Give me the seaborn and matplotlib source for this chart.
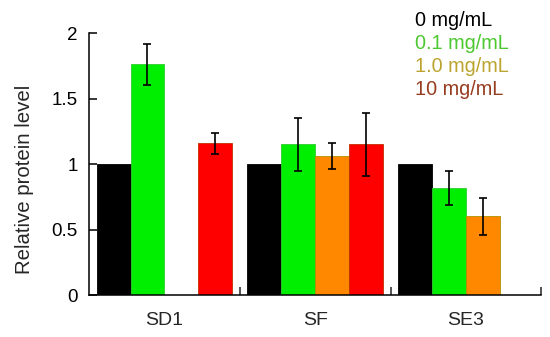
import numpy as np
import pandas as pd
import seaborn as sns
import matplotlib
matplotlib.use("Agg")
import matplotlib.pyplot as plt

groups = ["SD1", "SF", "SE3"]
series = ["0 mg/mL", "0.1 mg/mL", "1.0 mg/mL", "10 mg/mL"]
# values per series, ordered by groups (NaN = bar absent)
val_0 = [1.00, 1.00, 1.00]
val_01 = [1.76, 1.15, 0.82]
val_10 = [np.nan, 1.06, 0.60]
val_100 = [1.16, 1.15, np.nan]
err_0 = [np.nan, np.nan, np.nan]
err_01 = [0.155, 0.20, 0.13]
err_10 = [np.nan, 0.10, 0.14]
err_100 = [0.08, 0.24, np.nan]
yticks = [0, 0.5, 1, 1.5, 2]
ytick_labels = ["0", "0.5", "1", "1.5", "2"]

bar_colors = ["#000000", "#00ee00", "#ff8800", "#ff0000"]
edge_colors = ["#000000", "#33cc33", "#b09000", "#c03000"]
text_colors = ["#000000", "#4cc830", "#bca430", "#983c20"]

values = [val_0, val_01, val_10, val_100]
errors = [err_0, err_01, err_10, err_100]

rows = []
for s, vals in zip(series, values):
    for g, v in zip(groups, vals):
        rows.append({"group": g, "series": s, "value": v})
df = pd.DataFrame(rows)

sns.set_theme(style="ticks")
plt.rcParams["font.family"] = ["Liberation Sans", "DejaVu Sans"]

fig = plt.figure(figsize=(5.5, 3.37), dpi=100)
ax = fig.add_axes([0.162, 0.1246, 0.822, 0.7774])

sns.barplot(data=df.dropna(), x="group", y="value", hue="series",
            order=groups, hue_order=series, palette=bar_colors,
            width=0.9, errorbar=None, legend=False, ax=ax,
            linewidth=0.6, saturation=1)

for cont, ec in zip(ax.containers, edge_colors):
    for p in cont.patches:
        p.set_edgecolor(ec)

nb = len(series)
bw = 0.9 / nb
for si, (vals, errs) in enumerate(zip(values, errors)):
    for gi, (v, e) in enumerate(zip(vals, errs)):
        if np.isnan(v) or np.isnan(e):
            continue
        xpos = gi + (si - (nb - 1) / 2) * bw
        ax.errorbar(xpos, v, yerr=e, fmt="none", ecolor="black",
                    elinewidth=1.2, capsize=3, capthick=1.2)

ax.set_xlim(-0.5, 2.5)
ax.set_ylim(0, 2)
ax.set_yticks(yticks)
ax.set_yticklabels(ytick_labels)
ax.set_xlabel("")
ax.set_ylabel("Relative protein level", fontsize=14.7)
ax.yaxis.set_label_coords(-0.122, 0.443)

ax.spines["top"].set_visible(False)
ax.spines["right"].set_visible(False)
for sp in ["left", "bottom"]:
    ax.spines[sp].set_linewidth(1.1)
    ax.spines[sp].set_color("black")

ax.tick_params(axis="y", direction="in", length=6, width=1.1,
               labelsize=13.5, pad=8, colors="black")
ax.tick_params(axis="x", which="major", length=0, labelsize=14, pad=12)
ax.set_xticks([0.5, 1.5, 2.5], minor=True)
ax.tick_params(axis="x", which="minor", direction="in", length=6, width=1.1)

for i, (s, c) in enumerate(zip(series, text_colors)):
    fig.text(0.755, 0.967 - i * 0.068, s, color=c, fontsize=14.3,
             ha="left", va="top")

fig.savefig("out.png", dpi=100)
